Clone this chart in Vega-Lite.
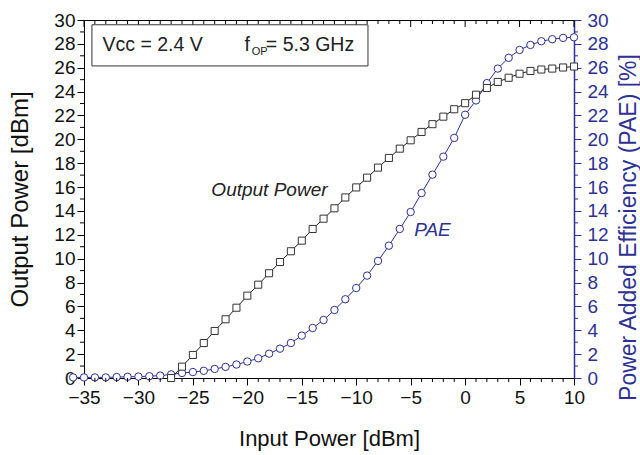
{
  "$schema": "https://vega.github.io/schema/vega-lite/v6.json",
  "width": 490,
  "height": 358,
  "autosize": "none",
  "padding": {"left": 84, "top": 20, "right": 66, "bottom": 77},
  "background": "white",
  "config": {
    "view": {"stroke": "black", "strokeWidth": 1},
    "font": "Liberation Sans",
    "axis": {"grid": false, "labelFont": "Liberation Sans", "titleFont": "Liberation Sans", "labelFontSize": 19, "titleFontSize": 22, "titleFontWeight": "normal", "labelColor": "#111111", "titleColor": "#111111", "domainColor": "black", "tickColor": "black", "labelFlush": false, "labelOverlap": false, "labelBound": false, "format": "d"}
  },
  "datasets": {
    "op": [
      {"pin": -27, "pout": 0.0}, {"pin": -26, "pout": 0.95}, {"pin": -25, "pout": 1.93}, {"pin": -24, "pout": 2.93},
      {"pin": -23, "pout": 3.94}, {"pin": -22, "pout": 4.92}, {"pin": -21, "pout": 5.89}, {"pin": -20, "pout": 6.9},
      {"pin": -19, "pout": 7.82}, {"pin": -18, "pout": 8.78}, {"pin": -17, "pout": 9.72}, {"pin": -16, "pout": 10.62},
      {"pin": -15, "pout": 11.51}, {"pin": -14, "pout": 12.49}, {"pin": -13, "pout": 13.35}, {"pin": -12, "pout": 14.22},
      {"pin": -11, "pout": 15.13}, {"pin": -10, "pout": 15.97}, {"pin": -9, "pout": 16.79}, {"pin": -8, "pout": 17.63},
      {"pin": -7, "pout": 18.44}, {"pin": -6, "pout": 19.22}, {"pin": -5, "pout": 19.92}, {"pin": -4, "pout": 20.62},
      {"pin": -3, "pout": 21.27}, {"pin": -2, "pout": 21.9}, {"pin": -1, "pout": 22.52}, {"pin": 0, "pout": 23.03},
      {"pin": 1, "pout": 23.74}, {"pin": 2, "pout": 24.3}, {"pin": 3, "pout": 24.81}, {"pin": 4, "pout": 25.16},
      {"pin": 5, "pout": 25.5}, {"pin": 6, "pout": 25.73}, {"pin": 7, "pout": 25.85}, {"pin": 8, "pout": 25.93},
      {"pin": 9, "pout": 26.02}, {"pin": 10, "pout": 26.1}
    ],
    "pae": [
      {"pin": -36, "pae": 0.05}, {"pin": -35, "pae": 0.05}, {"pin": -34, "pae": 0.05}, {"pin": -33, "pae": 0.05},
      {"pin": -32, "pae": 0.08}, {"pin": -31, "pae": 0.1}, {"pin": -30, "pae": 0.12}, {"pin": -29, "pae": 0.15},
      {"pin": -28, "pae": 0.2}, {"pin": -27, "pae": 0.3}, {"pin": -26, "pae": 0.42}, {"pin": -25, "pae": 0.5},
      {"pin": -24, "pae": 0.6}, {"pin": -23, "pae": 0.76}, {"pin": -22, "pae": 0.93}, {"pin": -21, "pae": 1.13},
      {"pin": -20, "pae": 1.38}, {"pin": -19, "pae": 1.65}, {"pin": -18, "pae": 2.04}, {"pin": -17, "pae": 2.46},
      {"pin": -16, "pae": 2.93}, {"pin": -15, "pae": 3.55}, {"pin": -14, "pae": 4.19}, {"pin": -13, "pae": 4.86},
      {"pin": -12, "pae": 5.7}, {"pin": -11, "pae": 6.6}, {"pin": -10, "pae": 7.54}, {"pin": -9, "pae": 8.58},
      {"pin": -8, "pae": 9.81}, {"pin": -7, "pae": 11.09}, {"pin": -6, "pae": 12.49}, {"pin": -5, "pae": 13.91},
      {"pin": -4, "pae": 15.5}, {"pin": -3, "pae": 17.04}, {"pin": -2, "pae": 18.55}, {"pin": -1, "pae": 20.12},
      {"pin": 0, "pae": 22.06}, {"pin": 1, "pae": 23.26}, {"pin": 2, "pae": 24.71}, {"pin": 3, "pae": 25.93},
      {"pin": 4, "pae": 26.83}, {"pin": 5, "pae": 27.49}, {"pin": 6, "pae": 27.91}, {"pin": 7, "pae": 28.22},
      {"pin": 8, "pae": 28.39}, {"pin": 9, "pae": 28.5}, {"pin": 10, "pae": 28.55}
    ],
    "xmajor": [{"t": -35}, {"t": -30}, {"t": -25}, {"t": -20}, {"t": -15}, {"t": -10}, {"t": -5}, {"t": 0}, {"t": 5}, {"t": 10}],
    "xminor": [{"t": -34}, {"t": -33}, {"t": -32}, {"t": -31}, {"t": -29}, {"t": -28}, {"t": -27}, {"t": -26}, {"t": -24}, {"t": -23}, {"t": -22}, {"t": -21}, {"t": -19}, {"t": -18}, {"t": -17}, {"t": -16}, {"t": -14}, {"t": -13}, {"t": -12}, {"t": -11}, {"t": -9}, {"t": -8}, {"t": -7}, {"t": -6}, {"t": -4}, {"t": -3}, {"t": -2}, {"t": -1}, {"t": 1}, {"t": 2}, {"t": 3}, {"t": 4}, {"t": 6}, {"t": 7}, {"t": 8}, {"t": 9}],
    "yminor": [{"t": 1}, {"t": 3}, {"t": 5}, {"t": 7}, {"t": 9}, {"t": 11}, {"t": 13}, {"t": 15}, {"t": 17}, {"t": 19}, {"t": 21}, {"t": 23}, {"t": 25}, {"t": 27}, {"t": 29}],
    "one": [{"v": 0}]
  },
  "layer": [
    {
      "layer": [
        {
          "data": {"name": "pae"},
          "mark": {"type": "line", "color": "#2E3192", "strokeWidth": 1, "clip": false},
          "encoding": {
            "x": {"field": "pin", "type": "quantitative", "scale": {"domain": [-35, 10], "nice": false, "zero": false}, "axis": null},
            "y": {"field": "pae", "type": "quantitative", "scale": {"domain": [0, 30], "nice": false},
                  "axis": {"orient": "right", "tickCount": 200, "format": "d", "values": [0, 2, 4, 6, 8, 10, 12, 14, 16, 18, 20, 22, 24, 26, 28, 30], "tickSize": 7, "labelPadding": 6, "labelOverlap": false,
                           "domainColor": "#2E3192", "domainWidth": 1.5, "tickColor": "#2E3192", "labelColor": "#2E3192", "titleColor": "#2E3192",
                           "title": "Power Added Efficiency (PAE) [%]", "titleAngle": -90, "titleFontSize": 23, "titleX": 54, "titleY": 207, "titleBaseline": "middle", "titleAlign": "center"}}
          }
        },
        {
          "data": {"name": "yminor"},
          "mark": {"type": "rule", "color": "#2E3192", "strokeWidth": 1, "x2Offset": 4, "clip": false},
          "encoding": {"y": {"field": "t", "type": "quantitative"}, "x": {"datum": 10}, "x2": {"datum": 10}}
        },
        {
          "data": {"name": "pae"},
          "mark": {"type": "point", "shape": "circle", "filled": false, "fill": "white", "stroke": "#2E3192", "strokeWidth": 1, "size": 55, "opacity": 1, "clip": false},
          "encoding": {
            "x": {"field": "pin", "type": "quantitative"},
            "y": {"field": "pae", "type": "quantitative"}
          }
        },
        {
          "data": {"name": "one"},
          "mark": {"type": "text", "text": "PAE", "font": "Liberation Sans", "fontSize": 19, "fontStyle": "italic", "color": "#2E3192", "align": "center", "baseline": "middle"},
          "encoding": {"x": {"datum": -3.0}, "y": {"datum": 12.4}}
        }
      ]
    },
    {
      "layer": [
        {
          "data": {"name": "op"},
          "mark": {"type": "line", "color": "#222222", "strokeWidth": 1, "clip": false},
          "encoding": {
            "x": {"field": "pin", "type": "quantitative", "scale": {"domain": [-35, 10], "nice": false, "zero": false},
                  "axis": {"orient": "bottom", "tickCount": 200, "format": "d", "values": [-35, -30, -25, -20, -15, -10, -5, 0, 5, 10], "tickSize": 7, "labelPadding": 3, "labelOverlap": false, "title": "Input Power [dBm]", "titlePadding": 21}},
            "y": {"field": "pout", "type": "quantitative", "scale": {"domain": [0, 30], "nice": false},
                  "axis": {"orient": "left", "tickCount": 200, "format": "d", "values": [0, 2, 4, 6, 8, 10, 12, 14, 16, 18, 20, 22, 24, 26, 28, 30], "tickSize": 7, "labelPadding": 2, "labelOverlap": false, "title": "Output Power [dBm]", "titleFontSize": 24, "titlePadding": 21}}
          }
        },
        {
          "data": {"name": "xminor"},
          "mark": {"type": "rule", "color": "black", "strokeWidth": 1, "y2Offset": 4, "clip": false},
          "encoding": {"x": {"field": "t", "type": "quantitative"}, "y": {"datum": 0}, "y2": {"datum": 0}}
        },
        {
          "data": {"name": "xminor"},
          "mark": {"type": "rule", "color": "black", "strokeWidth": 1, "y2Offset": 4, "clip": false},
          "encoding": {"x": {"field": "t", "type": "quantitative"}, "y": {"datum": 30}, "y2": {"datum": 30}}
        },
        {
          "data": {"name": "xmajor"},
          "mark": {"type": "rule", "color": "black", "strokeWidth": 1, "y2Offset": 7, "clip": false},
          "encoding": {"x": {"field": "t", "type": "quantitative"}, "y": {"datum": 30}, "y2": {"datum": 30}}
        },
        {
          "data": {"name": "yminor"},
          "mark": {"type": "rule", "color": "black", "strokeWidth": 1, "x2Offset": -4, "clip": false},
          "encoding": {"y": {"field": "t", "type": "quantitative"}, "x": {"datum": -35}, "x2": {"datum": -35}}
        },
        {
          "data": {"name": "op"},
          "mark": {"type": "point", "shape": "square", "filled": false, "fill": "white", "stroke": "#333333", "strokeWidth": 1, "size": 50, "opacity": 1, "clip": false},
          "encoding": {
            "x": {"field": "pin", "type": "quantitative"},
            "y": {"field": "pout", "type": "quantitative"}
          }
        },
        {
          "data": {"name": "one"},
          "mark": {"type": "text", "text": "Output Power", "font": "Liberation Sans", "fontSize": 19, "fontStyle": "italic", "color": "#222222", "align": "center", "baseline": "middle"},
          "encoding": {"x": {"datum": -17.97}, "y": {"datum": 15.76}}
        },
        {
          "data": {"name": "one"},
          "mark": {"type": "rect", "fill": "white", "stroke": "#333333", "strokeWidth": 1},
          "encoding": {"x": {"datum": -34.27}, "x2": {"datum": -8.92}, "y": {"datum": 29.6}, "y2": {"datum": 26.15}}
        },
        {
          "data": {"name": "one"},
          "mark": {"type": "text", "text": "Vcc = 2.4 V", "font": "Liberation Sans", "fontSize": 19.5, "color": "#222222", "align": "left", "baseline": "middle"},
          "encoding": {"x": {"datum": -33.3}, "y": {"datum": 27.9}}
        },
        {
          "data": {"name": "one"},
          "mark": {"type": "text", "text": "f", "font": "Liberation Sans", "fontSize": 19.5, "color": "#222222", "align": "left", "baseline": "middle"},
          "encoding": {"x": {"datum": -20.25}, "y": {"datum": 27.9}}
        },
        {
          "data": {"name": "one"},
          "mark": {"type": "text", "text": "OP", "font": "Liberation Sans", "fontSize": 11, "color": "#222222", "align": "left", "baseline": "middle"},
          "encoding": {"x": {"datum": -19.6}, "y": {"datum": 27.35}}
        },
        {
          "data": {"name": "one"},
          "mark": {"type": "text", "text": "= 5.3 GHz", "font": "Liberation Sans", "fontSize": 19.5, "color": "#222222", "align": "left", "baseline": "middle"},
          "encoding": {"x": {"datum": -18.3}, "y": {"datum": 27.9}}
        }
      ]
    }
  ],
  "resolve": {"scale": {"x": "independent", "y": "independent"}}
}
